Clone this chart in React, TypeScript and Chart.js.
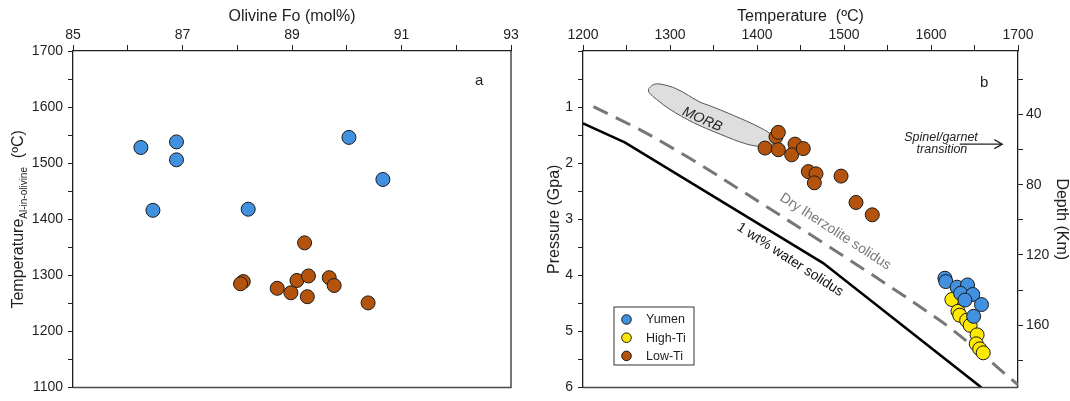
import React, { useEffect, useRef } from 'react';
import { Chart, registerables } from 'chart.js';

Chart.register(...registerables);

const FONT = '"Liberation Sans", Arial, Helvetica, sans-serif';
const INK = '#1f1f1f';
const FRAME = '#4a4a4a';
const BLUE = '#4291e0';
const YELLOW = '#ffe900';
const ORANGE = '#b4540c';
const EDGE = '#1a1a1a';

// ---------- Panel a: olivine Fo (mol%) vs Al-in-olivine temperature ----------
const foTickValues = [85, 86, 87, 88, 89, 90, 91, 92, 93];
const foTickLabels = [85, 87, 89, 91, 93];
const tempATickValues = [1100, 1150, 1200, 1250, 1300, 1350, 1400, 1450, 1500, 1550, 1600, 1650, 1700];
const tempATickLabels = [1100, 1200, 1300, 1400, 1500, 1600, 1700];

const yumenFo = [86.24, 86.89, 86.89, 86.46, 88.2, 90.04, 90.66];
const yumenTempA = [1528, 1538, 1506, 1416, 1418, 1546, 1471];
const lowTiFo = [89.23, 88.11, 88.06, 88.73, 88.98, 89.09, 89.3, 89.28, 89.68, 89.77, 90.39];
const lowTiTempA = [1358, 1289, 1285, 1277, 1269, 1291, 1299, 1262, 1296, 1282, 1251];

// ---------- Panel b: temperature vs pressure / depth ----------
const tempBTickValues = [1200, 1250, 1300, 1350, 1400, 1450, 1500, 1550, 1600, 1650, 1700];
const tempBTickLabels = [1200, 1300, 1400, 1500, 1600, 1700];
const pressureTickValues = [0, 0.5, 1, 1.5, 2, 2.5, 3, 3.5, 4, 4.5, 5, 5.5, 6];
const pressureTickLabels = [1, 2, 3, 4, 5, 6];
const depthTickValues = [20, 40, 60, 80, 100, 120, 140, 160, 180];
const depthTickLabels = [40, 80, 120, 160];
const depthAtTop = 3.9; // km at 0 GPa
const depthAtBottom = 195.5; // km at 6 GPa

const yumenT = [1616, 1617, 1630, 1642, 1634, 1648, 1639, 1658, 1649];
const yumenP = [4.05, 4.11, 4.21, 4.17, 4.32, 4.34, 4.44, 4.52, 4.73];
const highTiT = [1624, 1631, 1633, 1641, 1645, 1653, 1652, 1656, 1660];
const highTiP = [4.43, 4.64, 4.71, 4.8, 4.89, 5.06, 5.22, 5.31, 5.38];
const lowTiT = [1421.8, 1424.5, 1409.2, 1424.5, 1443.7, 1439.9, 1453.2, 1459, 1467.8, 1465.9, 1496.6, 1513.8, 1532.5];
const lowTiP = [1.53, 1.45, 1.73, 1.76, 1.66, 1.85, 1.74, 2.15, 2.19, 2.35, 2.23, 2.7, 2.92];

const waterSolidusT = [1200, 1248, 1476, 1658];
const waterSolidusP = [1.29, 1.63, 3.78, 6.0];
const drySolidusT = [1212, 1277, 1361, 1610, 1700];
const drySolidusP = [0.99, 1.5, 2.28, 4.8, 5.95];

const morbT = [1275.1, 1280.8, 1288.5, 1307.7, 1334.5, 1344.0, 1372.8, 1403.4, 1416.9, 1420.7, 1407.2, 1388.2, 1357.5, 1326.8, 1300.0, 1284.7, 1276.2, 1275.1];
const morbP = [0.676, 0.6, 0.588, 0.676, 0.912, 0.965, 1.147, 1.364, 1.5, 1.629, 1.699, 1.659, 1.482, 1.276, 1.041, 0.865, 0.746, 0.676];

const seriesNames = ['Yumen', 'High-Ti', 'Low-Ti'];
const seriesColors = [BLUE, YELLOW, ORANGE];

const pts = (xs: number[], ys: number[]) => xs.map((x, i) => ({ x, y: ys[i] }));

function axis(values: number[], labels: number[], tickLength: number, padding: number, extra: any = {}) {
  return {
    type: 'linear',
    afterBuildTicks: (scale: any) => {
      scale.ticks = values.map((v) => ({ value: v }));
    },
    grid: { display: true, drawOnChartArea: false, drawTicks: true, tickLength, color: INK, lineWidth: 1 },
    border: { display: true, color: INK, width: 1.3 },
    ticks: {
      font: { family: FONT, size: 14 },
      color: INK,
      autoSkip: false,
      maxRotation: 0,
      padding,
      callback: (v: number) => (labels.includes(v) ? String(v) : ''),
    },
    ...extra,
  };
}

function drawRotated(ctx: CanvasRenderingContext2D, text: string, x: number, y: number, deg: number, font: string, color: string) {
  ctx.save();
  ctx.translate(x, y);
  ctx.rotate((deg * Math.PI) / 180);
  ctx.font = font;
  ctx.fillStyle = color;
  ctx.textAlign = 'center';
  ctx.textBaseline = 'middle';
  ctx.fillText(text, 0, 0);
  ctx.restore();
}

const panelAOverlay = {
  id: 'panelAOverlay',
  afterDraw(chart: any) {
    const { ctx, chartArea: ca, scales } = chart;
    ctx.save();
    // right and bottom sides of the frame
    ctx.strokeStyle = FRAME;
    ctx.lineWidth = 1.5;
    ctx.beginPath();
    ctx.moveTo(ca.left, ca.bottom);
    ctx.lineTo(ca.right, ca.bottom);
    ctx.lineTo(ca.right, ca.top);
    ctx.stroke();

    // top title
    ctx.fillStyle = INK;
    ctx.font = `16px ${FONT}`;
    ctx.textAlign = 'center';
    ctx.textBaseline = 'middle';
    ctx.fillText('Olivine Fo (mol%)', (ca.left + ca.right) / 2, 17);

    // left title with subscript
    const main = `16px ${FONT}`;
    const sub = `10px ${FONT}`;
    ctx.save();
    ctx.translate(19, (ca.top + ca.bottom) / 2);
    ctx.rotate(-Math.PI / 2);
    ctx.textAlign = 'left';
    ctx.textBaseline = 'middle';
    ctx.font = main;
    const w1 = ctx.measureText('Temperature').width;
    const w3 = ctx.measureText('  (ºC)').width;
    ctx.font = sub;
    const w2 = ctx.measureText('Al-in-olivine').width;
    let x = -(w1 + w2 + w3) / 2;
    ctx.font = main;
    ctx.fillText('Temperature', x, 0);
    x += w1;
    ctx.font = sub;
    ctx.fillText('Al-in-olivine', x, 5);
    x += w2;
    ctx.font = main;
    ctx.fillText('  (ºC)', x, 0);
    ctx.restore();

    // panel letter
    ctx.font = `15px ${FONT}`;
    ctx.fillText('a', scales.x.getPixelForValue(92.42), scales.y.getPixelForValue(1647));
    ctx.restore();
  },
};

const panelBOverlay = {
  id: 'panelBOverlay',
  afterDraw(chart: any) {
    const { ctx, chartArea: ca, scales } = chart;
    const px = (t: number) => scales.x.getPixelForValue(t);
    const py = (p: number) => scales.y.getPixelForValue(p);
    ctx.save();
    // bottom side of the frame
    ctx.strokeStyle = FRAME;
    ctx.lineWidth = 1.5;
    ctx.beginPath();
    ctx.moveTo(ca.left, ca.bottom);
    ctx.lineTo(ca.right, ca.bottom);
    ctx.stroke();

    // axis titles
    ctx.fillStyle = INK;
    ctx.font = `16px ${FONT}`;
    ctx.textAlign = 'center';
    ctx.textBaseline = 'middle';
    ctx.fillText('Temperature  (ºC)', (ca.left + ca.right) / 2, 17);
    drawRotated(ctx, 'Pressure (Gpa)', 15, (ca.top + ca.bottom) / 2, -90, `16px ${FONT}`, INK);
    drawRotated(ctx, 'Depth (Km)', 521, (ca.top + ca.bottom) / 2, 90, `16px ${FONT}`, INK);

    // curve and field labels
    drawRotated(ctx, 'MORB', px(1337), py(1.22), 24, `italic 14px ${FONT}`, '#222');
    drawRotated(ctx, 'Dry lherzolite solidus', px(1490), py(3.22), 33, `14px ${FONT}`, '#7a7a7a');
    drawRotated(ctx, '1 wt% water solidus', px(1438), py(3.72), 33, `14px ${FONT}`, '#111');

    // spinel/garnet transition note with arrow
    ctx.fillStyle = '#222';
    ctx.font = `italic 12.5px ${FONT}`;
    ctx.textAlign = 'center';
    ctx.fillText('Spinel/garnet', px(1611.5), py(1.535));
    ctx.fillText('transition', px(1612.6), py(1.759));
    const ay = py(1.66);
    const ax0 = px(1633);
    const ax1 = px(1682);
    ctx.strokeStyle = '#222';
    ctx.lineWidth = 1.2;
    ctx.beginPath();
    ctx.moveTo(ax0, ay);
    ctx.lineTo(ax1, ay);
    ctx.moveTo(ax1 - 8, ay - 4.5);
    ctx.lineTo(ax1, ay);
    ctx.lineTo(ax1 - 8, ay + 4.5);
    ctx.stroke();

    // panel letter
    ctx.fillStyle = INK;
    ctx.font = `15px ${FONT}`;
    ctx.fillText('b', px(1661), py(0.56));

    // legend
    const lx = ca.left + 31;
    const ly = ca.top + 256;
    ctx.strokeStyle = '#555';
    ctx.lineWidth = 1.2;
    ctx.strokeRect(lx, ly, 80, 58);
    ctx.font = `12.5px ${FONT}`;
    ctx.textAlign = 'left';
    ctx.textBaseline = 'middle';
    seriesNames.forEach((name, i) => {
      const cy = ly + 12.5 + i * 18.2;
      ctx.beginPath();
      ctx.arc(lx + 12.5, cy, 4.8, 0, Math.PI * 2);
      ctx.fillStyle = seriesColors[i];
      ctx.fill();
      ctx.strokeStyle = EDGE;
      ctx.lineWidth = 1;
      ctx.stroke();
      ctx.fillStyle = INK;
      ctx.fillText(name, lx + 32, cy + 0.5);
    });
    ctx.restore();
  },
};

const pointStyle = (color: string, order: number) => ({
  backgroundColor: color,
  borderColor: EDGE,
  borderWidth: 1,
  pointRadius: 7,
  pointBackgroundColor: color,
  pointBorderColor: EDGE,
  pointBorderWidth: 1,
  order,
});

function configA(): any {
  return {
    type: 'scatter',
    data: {
      datasets: [
        { label: 'Yumen', data: pts(yumenFo, yumenTempA), ...pointStyle(BLUE, 0) },
        { label: 'Low-Ti', data: pts(lowTiFo, lowTiTempA), ...pointStyle(ORANGE, 1) },
      ],
    },
    options: {
      animation: false,
      responsive: false,
      events: [],
      layout: { padding: { left: 0, top: 0, right: 29, bottom: 10 } },
      plugins: { legend: { display: false }, tooltip: { enabled: false } },
      scales: {
        x: axis(foTickValues, foTickLabels, 6, 1, {
          position: 'top',
          min: 85,
          max: 93,
          afterFit: (s: any) => {
            s.height = 51;
          },
        }),
        y: axis(tempATickValues, tempATickLabels, 5, 5, {
          position: 'left',
          min: 1100,
          max: 1700,
          afterFit: (s: any) => {
            s.width = 73;
          },
        }),
      },
    },
    plugins: [panelAOverlay],
  };
}

function configB(): any {
  const curve = { type: 'line', pointRadius: 0, fill: false, tension: 0.3 };
  return {
    type: 'scatter',
    data: {
      datasets: [
        { label: 'Yumen', data: pts(yumenT, yumenP), ...pointStyle(BLUE, 0) },
        { label: 'High-Ti', data: pts(highTiT, highTiP), ...pointStyle(YELLOW, 1) },
        { label: 'Low-Ti', data: pts(lowTiT, lowTiP), ...pointStyle(ORANGE, 2) },
        {
          label: 'MORB',
          data: pts(morbT, morbP),
          type: 'line',
          pointRadius: 0,
          tension: 0.35,
          fill: 'shape',
          backgroundColor: '#dedede',
          borderColor: '#555',
          borderWidth: 1,
          order: 5,
        },
        {
          label: 'Dry lherzolite solidus',
          data: pts(drySolidusT, drySolidusP),
          ...curve,
          borderColor: '#777',
          borderWidth: 3,
          borderDash: [16, 9],
          order: 4,
        },
        {
          label: '1 wt% water solidus',
          data: pts(waterSolidusT, waterSolidusP),
          ...curve,
          tension: 0,
          borderColor: '#000',
          borderWidth: 2.5,
          order: 3,
        },
      ],
    },
    options: {
      animation: false,
      responsive: false,
      events: [],
      layout: { padding: { left: 0, top: 0, right: 12, bottom: 10 } },
      plugins: { legend: { display: false }, tooltip: { enabled: false } },
      scales: {
        x: axis(tempBTickValues, tempBTickLabels, 6, 1, {
          position: 'top',
          min: 1200,
          max: 1700,
          afterFit: (s: any) => {
            s.height = 51;
          },
        }),
        y: axis(pressureTickValues, pressureTickLabels, 5, 5, {
          position: 'left',
          min: 0,
          max: 6,
          reverse: true,
          afterFit: (s: any) => {
            s.width = 43;
          },
        }),
        depth: axis(depthTickValues, depthTickLabels, 5, 3, {
          position: 'right',
          min: depthAtTop,
          max: depthAtBottom,
          reverse: true,
          afterFit: (s: any) => {
            s.width = 40;
          },
        }),
      },
    },
    plugins: [panelBOverlay],
  };
}

export default function App() {
  const refA = useRef<HTMLCanvasElement>(null);
  const refB = useRef<HTMLCanvasElement>(null);

  useEffect(() => {
    Chart.defaults.font.family = FONT;
    const a = new Chart(refA.current as HTMLCanvasElement, configA());
    const b = new Chart(refB.current as HTMLCanvasElement, configB());
    return () => {
      a.destroy();
      b.destroy();
    };
  }, []);

  return (
    <div style={{ position: 'fixed', left: 0, top: 0, width: 1070, height: 401, background: '#fff', overflow: 'hidden' }}>
      <canvas ref={refA} width={540} height={401} style={{ position: 'absolute', left: 0, top: 0, width: 540, height: 401 }} />
      <canvas ref={refB} width={530} height={401} style={{ position: 'absolute', left: 540, top: 0, width: 530, height: 401 }} />
    </div>
  );
}
